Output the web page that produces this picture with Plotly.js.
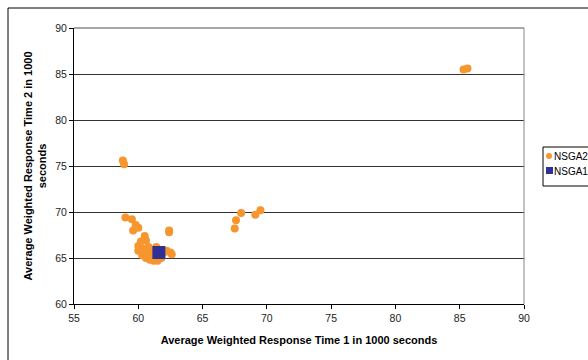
<!DOCTYPE html>
<html>
<head>
<meta charset="utf-8">
<script src="https://cdn.plot.ly/plotly-3.0.1.min.js"></script>
<style>html,body{margin:0;padding:0;background:#fff;}#chart{width:588px;height:360px;}</style>
</head>
<body>
<div id="chart"></div>
<script>
const nsga2X = [85.3, 85.6, 58.8, 58.9,
  59.0, 59.5, 59.8, 60.0, 59.6, 62.4, 62.4, 60.5, 60.2, 60.6, 60.0, 60.4, 60.8, 61.1, 60.0,
  60.3, 60.6, 60.9, 61.2, 61.5, 61.0, 61.8, 62.0, 62.2, 62.6, 62.5, 61.4, 60.7,
  67.5, 67.6, 68.0, 69.1, 69.5];
const nsga2Y = [85.5, 85.6, 75.6, 75.2,
  69.4, 69.2, 68.6, 68.3, 68.0, 68.0, 67.8, 67.4, 66.8, 66.9, 66.3, 66.0, 66.2, 65.8, 65.8,
  65.3, 65.0, 64.8, 64.7, 64.7, 65.2, 65.0, 65.6, 65.8, 65.4, 65.6, 66.2, 65.5,
  68.2, 69.1, 69.9, 69.7, 70.2];
const nsga1X = [61.6];
const nsga1Y = [65.6];
const seriesNames = ['NSGA2', 'NSGA1'];
const xTicks = [55, 60, 65, 70, 75, 80, 85, 90];
const yTicks = [60, 65, 70, 75, 80, 85, 90];

const orange = '#F7962E';
const navy = '#2E3192';

const traces = [
  {x: nsga2X, y: nsga2Y, mode: 'markers', type: 'scatter', name: seriesNames[0],
   marker: {color: orange, size: 8, symbol: 'circle'}},
  {x: nsga1X, y: nsga1Y, mode: 'markers', type: 'scatter', name: seriesNames[1],
   marker: {color: navy, size: 13, symbol: 'square'}}
];

const L = 74, R = 64, T = 28, B = 56, W = 588, H = 360;
const pw = W - L - R, ph = H - T - B;
const px = p => (p - L) / pw;
const py = p => (H - B - p) / ph;

const layout = {
  width: W, height: H,
  margin: {l: L, r: R, t: T, b: B, autoexpand: false},
  paper_bgcolor: '#fff', plot_bgcolor: '#fff',
  showlegend: false,
  font: {family: 'Arial, Liberation Sans, sans-serif', size: 10, color: '#000'},
  xaxis: {
    range: [55, 90], tickvals: xTicks, ticktext: xTicks.map(String),
    showgrid: false, zeroline: false, showline: true, linecolor: '#000', linewidth: 1,
    ticks: 'outside', ticklen: 4, tickcolor: '#000',
    tickfont: {size: 10.5, color: '#222'},
    title: {text: '<b>Average Weighted Response Time 1 in 1000 seconds</b>', font: {size: 11}, standoff: 13}
  },
  yaxis: {
    range: [60, 90], tickvals: yTicks, ticktext: yTicks.map(String),
    showgrid: true, gridcolor: '#333', gridwidth: 1, zeroline: false,
    showline: true, linecolor: '#000', linewidth: 1,
    ticks: 'outside', ticklen: 4, tickcolor: '#000',
    tickfont: {size: 10.5, color: '#222'},
    title: {text: '<b>Average Weighted Response Time 2 in 1000<br>seconds</b>', font: {size: 11}, standoff: 6}
  },
  shapes: [
    {type: 'rect', xref: 'paper', yref: 'paper', x0: px(8), x1: px(620), y0: py(400), y1: py(8),
     line: {color: '#000', width: 1}, fillcolor: 'rgba(0,0,0,0)', layer: 'below'},
    {type: 'line', xref: 'paper', yref: 'paper', x0: 1, x1: 1, y0: 0, y1: 1,
     line: {color: '#888', width: 1}},
    {type: 'line', xref: 'paper', yref: 'paper', x0: 0, x1: 1, y0: 1, y1: 1,
     line: {color: '#888', width: 1.5}},
    {type: 'rect', xref: 'paper', yref: 'paper', x0: px(543), x1: px(620), y0: py(186), y1: py(147),
     line: {color: '#000', width: 1}, fillcolor: '#fff'},
    {type: 'circle', xref: 'paper', yref: 'paper', x0: px(546), x1: px(552), y0: py(159), y1: py(153),
     line: {color: orange, width: 0}, fillcolor: orange},
    {type: 'rect', xref: 'paper', yref: 'paper', x0: px(546), x1: px(553), y0: py(174), y1: py(167),
     line: {color: navy, width: 0}, fillcolor: navy}
  ],
  annotations: [
    {xref: 'paper', yref: 'paper', x: px(552), y: py(156), xanchor: 'left', yanchor: 'middle',
     text: seriesNames[0], showarrow: false, font: {size: 10, color: '#000'}},
    {xref: 'paper', yref: 'paper', x: px(552), y: py(171), xanchor: 'left', yanchor: 'middle',
     text: seriesNames[1], showarrow: false, font: {size: 10, color: '#000'}}
  ]
};

Plotly.newPlot('chart', traces, layout, {displayModeBar: false, staticPlot: true});
</script>
</body>
</html>
